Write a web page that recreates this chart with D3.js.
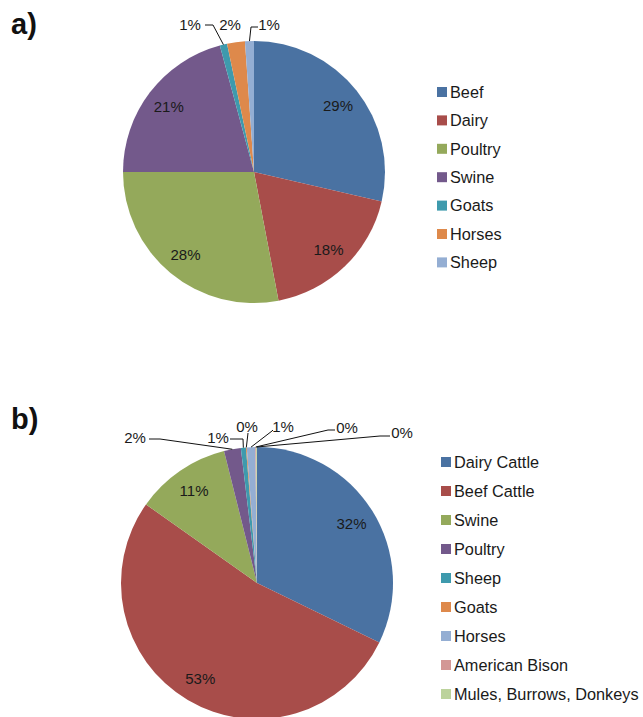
<!DOCTYPE html>
<html>
<head>
<meta charset="utf-8">
<script src="https://cdn.jsdelivr.net/npm/d3@7"></script>
<style>
  body { margin: 0; background: #fff; }
  svg { display: block; font-family: "Liberation Sans", Arial, sans-serif; }
</style>
</head>
<body>
<svg id="chart" width="643" height="717"></svg>
<script>
// panel a) - share by animal type
const categoriesA = ["Beef", "Dairy", "Poultry", "Swine", "Goats", "Horses", "Sheep"];
const valuesA = [28.6, 18.4, 28.0, 20.8, 0.9, 2.2, 1.1];

// panel b) - share by animal type
const categoriesB = ["Dairy Cattle", "Beef Cattle", "Swine", "Poultry", "Sheep", "Goats", "Horses", "American Bison", "Mules, Burrows, Donkeys"];
const valuesB = [32.2, 52.6, 11.3, 2.0, 0.6, 0.1, 1.0, 0.1, 0.1];

const colorsA = ["#4a72a2", "#a84d4a", "#94a95b", "#73598b", "#3e9aad", "#de894b", "#94aed3"];
const colorsB = ["#4a72a2", "#a84d4a", "#94a95b", "#73598b", "#3e9aad", "#de894b", "#94aed3", "#d39795", "#bcd39c"];

// outside label placement (offsets from the pie centre): text, leader start, elbow
const outsideA = [
    { i: 4, tx: -64, ty: -147, sx: -49, sy: -147, ex: -41, ey: -147 },
    { i: 5, tx: -24, ty: -147, leader: false },
    { i: 6, tx: 15, ty: -147, sx: 4, sy: -145, ex: -3, ey: -145 }
];
const outsideB = [
    { i: 3, tx: -122, ty: -145, sx: -108, sy: -144, ex: -97, ey: -144 },
    { i: 4, tx: -39, ty: -145, sx: -27, sy: -144, ex: -14, ey: -144 },
    { i: 5, tx: -10, ty: -156, sx: -9, sy: -150, ex: -9, ey: -150 },
    { i: 6, tx: 26, ty: -156, sx: 16, sy: -153, ex: 15, ey: -152 },
    { i: 7, tx: 90, ty: -155, sx: 78, sy: -153, ex: 71, ey: -153 },
    { i: 8, tx: 145, ty: -150, sx: 133, sy: -147, ex: 123, ey: -147 }
];

const svg = d3.select("#chart");

function drawPie(opts) {
    const { cats, vals, colors, cx, cy, r, outside, legendX, legendY, legendStep, tag, tagY } = opts;
    const total = d3.sum(vals);
    const pct = v => Math.round(v / total * 100) + "%";

    svg.append("text")
        .attr("x", 11)
        .attr("y", tagY)
        .attr("font-size", 29)
        .attr("font-weight", "bold")
        .attr("fill", "#111")
        .text(tag);

    const pie = d3.pie().sort(null).value(d => d)(vals);
    const arc = d3.arc().innerRadius(0).outerRadius(r);
    const g = svg.append("g").attr("transform", `translate(${cx},${cy})`);

    g.selectAll("path")
        .data(pie)
        .enter()
        .append("path")
        .attr("d", arc)
        .attr("fill", (d, i) => colors[i]);

    // inside labels for the big slices
    const outsideIdx = outside.map(o => o.i);
    const labelArc = d3.arc().innerRadius(r * 0.82).outerRadius(r * 0.82);
    g.selectAll("text.inside")
        .data(pie.filter((d, i) => !outsideIdx.includes(i)))
        .enter()
        .append("text")
        .attr("class", "inside")
        .attr("transform", d => `translate(${labelArc.centroid(d)})`)
        .attr("text-anchor", "middle")
        .attr("dy", "0.36em")
        .attr("font-size", 15)
        .attr("fill", "#1a1a1a")
        .text(d => pct(d.value));

    // outside labels with leader lines
    outside.forEach(o => {
        const d = pie[o.i];
        const mid = (d.startAngle + d.endAngle) / 2;
        const ax = r * Math.sin(mid), ay = -r * Math.cos(mid);
        if (o.leader !== false) {
            g.append("polyline")
                .attr("points", [[o.sx, o.sy], [o.ex, o.ey], [ax, ay]].map(p => p.join(",")).join(" "))
                .attr("fill", "none")
                .attr("stroke", "#111")
                .attr("stroke-width", 1);
        }
        g.append("text")
            .attr("x", o.tx)
            .attr("y", o.ty)
            .attr("text-anchor", "middle")
            .attr("dy", "0.36em")
            .attr("font-size", 15)
            .attr("fill", "#1a1a1a")
            .text(pct(d.value));
    });

    // legend
    const lg = svg.append("g").attr("transform", `translate(${legendX},${legendY})`);
    const row = lg.selectAll("g")
        .data(cats)
        .enter()
        .append("g")
        .attr("transform", (d, i) => `translate(0,${i * legendStep})`);
    row.append("rect")
        .attr("x", 0)
        .attr("y", -5)
        .attr("width", 10)
        .attr("height", 10)
        .attr("fill", (d, i) => colors[i]);
    row.append("text")
        .attr("x", 13)
        .attr("dy", "0.36em")
        .attr("font-size", 16.3)
        .attr("fill", "#1a1a1a")
        .text(d => d);
}

drawPie({
    cats: categoriesA, vals: valuesA, colors: colorsA,
    cx: 254, cy: 172, r: 131, outside: outsideA,
    legendX: 437, legendY: 92, legendStep: 28.4,
    tag: "a)", tagY: 34
});

drawPie({
    cats: categoriesB, vals: valuesB, colors: colorsB,
    cx: 257, cy: 583, r: 136, outside: outsideB,
    legendX: 441, legendY: 462, legendStep: 29,
    tag: "b)", tagY: 429
});
</script>
</body>
</html>
